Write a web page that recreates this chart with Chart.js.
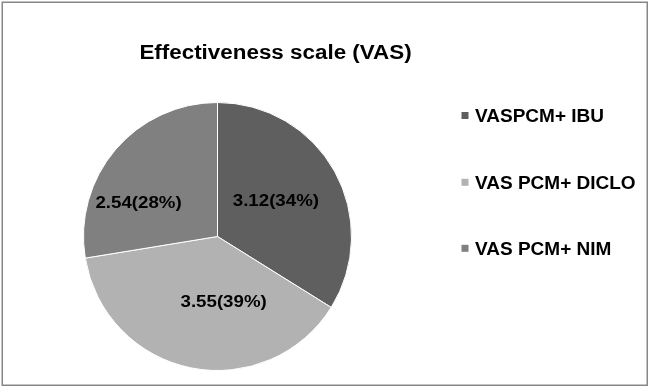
<!DOCTYPE html>
<html>
<head>
<meta charset="utf-8">
<script src="https://cdn.jsdelivr.net/npm/chart.js@4"></script>
<style>
html,body{margin:0;padding:0;background:#fff;}
canvas{display:block;}
</style>
</head>
<body>
<canvas id="c" width="650" height="388"></canvas>
<script>
const titleText = "Effectiveness scale (VAS)";
const categories = ["VASPCM+ IBU", "VAS PCM+ DICLO", "VAS PCM+ NIM"];
const values = [3.12, 3.55, 2.54];
const percentLabels = ["34%", "39%", "28%"];
const sliceColors = ["#5f5f5f", "#b2b2b2", "#808080"];

const FONT = "'Liberation Sans', Arial, sans-serif";

const decor = {
  id: 'decor',
  afterDatasetsDraw(chart) {
    const ctx = chart.ctx;
    const meta = chart.getDatasetMeta(0);
    const place = [{shift: -2.3, r: 0.51}, {shift: -16.7, r: 0.49}, {shift: -17.4, r: 0.64}];
    ctx.save();
    ctx.fillStyle = '#000';
    ctx.font = 'bold 17px ' + FONT;
    ctx.textAlign = 'center';
    ctx.textBaseline = 'middle';
    meta.data.forEach((arc, i) => {
      const p = arc.getProps(['x','y','startAngle','endAngle','outerRadius'], true);
      const mid = (p.startAngle + p.endAngle) / 2 + place[i].shift * Math.PI / 180;
      const d = p.outerRadius * place[i].r;
      const x = p.x + Math.cos(mid) * d;
      const y = p.y + Math.sin(mid) * d;
      ctx.save();
      ctx.translate(x, y);
      ctx.scale(1.1, 1);
      ctx.fillText(values[i].toFixed(2) + '(' + percentLabels[i] + ')', 0, 0.5);
      ctx.restore();
    });
    ctx.restore();
  },
  afterDraw(chart) {
    const ctx = chart.ctx;
    ctx.save();
    ctx.fillStyle = '#000';
    ctx.font = 'bold 20px ' + FONT;
    ctx.textAlign = 'center';
    ctx.textBaseline = 'alphabetic';
    ctx.translate(275.5, 59);
    ctx.scale(1.12, 1);
    ctx.fillText(titleText, 0, 0);
    ctx.restore();
    ctx.save();
    ctx.font = 'bold 19px ' + FONT;
    ctx.textBaseline = 'middle';
    ctx.textAlign = 'left';
    const rows = [115.5, 182.3, 248.3];
    categories.forEach((c, i) => {
      ctx.fillStyle = sliceColors[i];
      ctx.fillRect(461.5, rows[i] - 3.5, 7, 7);
      ctx.fillStyle = '#000';
      ctx.fillText(c, 475, rows[i] + 1);
    });
    ctx.restore();
    ctx.save();
    ctx.strokeStyle = '#878787';
    ctx.lineWidth = 1.5;
    ctx.strokeRect(2.25, 2.25, 645, 383);
    ctx.restore();
  }
};

new Chart(document.getElementById('c'), {
  type: 'pie',
  data: {
    labels: categories,
    datasets: [{
      data: values,
      backgroundColor: sliceColors,
      borderColor: '#ffffff',
      borderWidth: 1
    }]
  },
  options: {
    responsive: false,
    devicePixelRatio: 1,
    animation: false,
    layout: { padding: { left: 83, right: 298, top: 102, bottom: 17 } },
    plugins: {
      legend: { display: false },
      title: { display: false },
      tooltip: { enabled: false }
    }
  },
  plugins: [decor]
});
</script>
</body>
</html>
